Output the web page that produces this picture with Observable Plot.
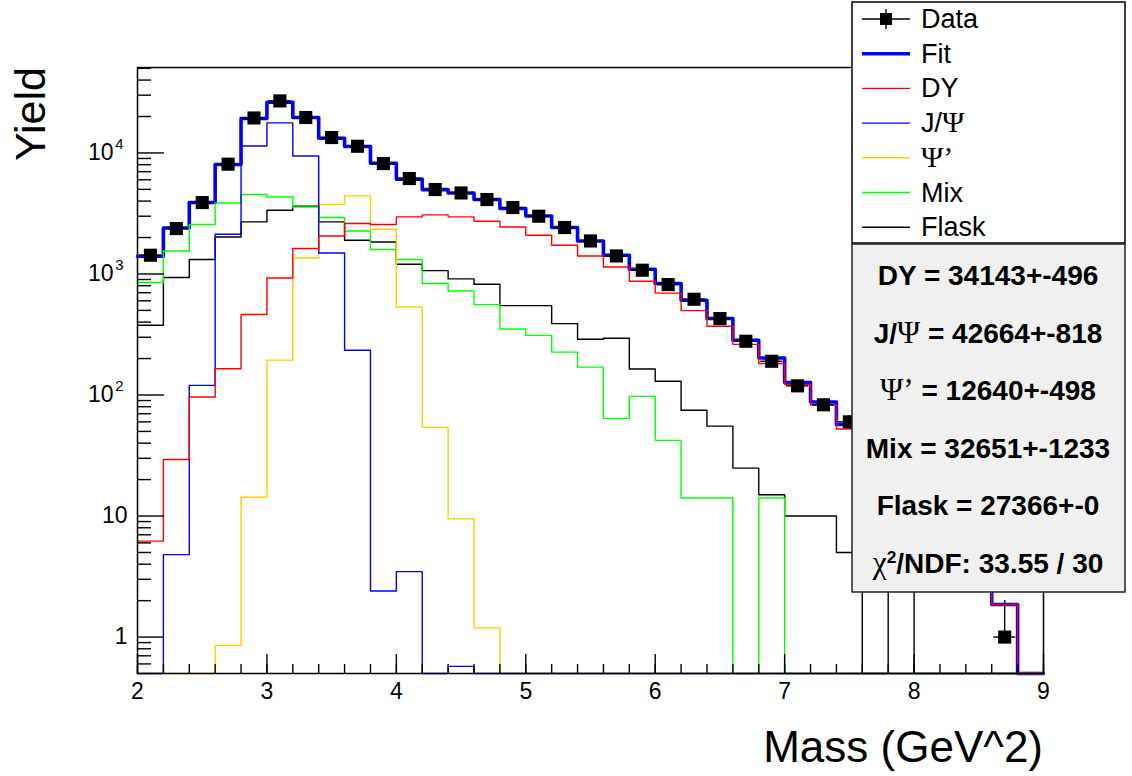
<!DOCTYPE html>
<html><head><meta charset="utf-8">
<script src="https://cdn.jsdelivr.net/npm/d3@7"></script>
<script src="https://cdn.jsdelivr.net/npm/@observablehq/plot@0.6"></script>
<style>
body{margin:0;background:#fff;}
#wrap{position:relative;width:1132px;height:776px;}
</style></head>
<body><div id="wrap"></div>
<script>
// ---- data ----
const binEdges = [2.0,2.2,2.4,2.6,2.8,3.0,3.2,3.4,3.6,3.8,4.0,4.2,4.4,4.6,4.8,5.0,5.2,5.4,5.6,5.8,6.0,6.2,6.4,6.6,6.8,7.0,7.2,7.4,7.6,7.8,8.0,8.2,8.4,8.6,8.8,9.0];
const dataYield = [1428,2373,3890,8070,19450,26900,19620,13400,11350,8170,6140,4980,4670,4120,3540,3000,2420,1874,1409,1074,817,618,428,278,190,119,83,60,38,25,17,9,5,1,0];
const fitYield  = [1400,2400,3890,8020,19240,26240,19620,13220,11300,8220,6070,4980,4670,4120,3470,3015,2420,1874,1428,1094,833,606,428,283,202,127,87.5,57,36,27,15,9,5,1.86,0];
const dyYield   = [6.2,29.3,96.3,165,462,927,1622,2060,2610,2560,2960,3075,2960,2728,2445,2088,1727,1409,1143,871,695,498,370,262,182,122,82.6,52.4,36,24,15,9,5,1.86,0];
const jpsiYield = [0,4.8,120,2130,11420,17700,9440,1492,234,2.4,3.47,0,0.573,0,0,0,0,0,0,0,0,0,0,0,0,0,0,0,0,0,0,0,0,0,0];
const psi2Yield = [0,0,0,0.853,14.3,194,1355,3745,4415,2340,533,54,9.5,1.19,0,0,0,0,0,0,0,0,0,0,0,0,0,0,0,0,0,0,0,0,0];
const mixYield  = [849,1549,2560,3862,4530,4326,3580,2925,2265,1592,1315,833,724,558,351,311,226,170,63.8,97.5,42.2,14.1,14.1,0,14.1,0,0,0,0,0,0,0,0,0,0];
const flaskYield= [377,934,1315,2023,2692,3360,3630,2692,1898,1838,1203,1065,910,822,548,548,389,289,294,164,130,74.8,55.3,24.9,15.0,10,10,5,0,3,0,0,0,0,0];

const xMajorTicks = [2,3,4,5,6,7,8,9];
const xMinorTicks = binEdges;
const yMajorTicks = [1,10,100,1000,10000];
const yTickBase = ["1","10","10","10","10"];
const yTickExp  = ["","","2","3","4"];
const yMinorTicks = [0.6,0.7,0.8,0.9,2,3,4,5,6,7,8,9,20,30,40,50,60,70,80,90,200,300,400,500,600,700,800,900,2000,3000,4000,5000,6000,7000,8000,9000,20000,30000,40000,50000];

const legendLabels = ["Data","Fit","DY","J/Ψ","Ψ’","Mix","Flask"];
const statLines = ["DY = 34143+-496","J/Ψ = 42664+-818","Ψ’ = 12640+-498","Mix = 32651+-1233","Flask = 27366+-0","χ2/NDF: 33.55 / 30"];

const yMin = 0.5, yMax = 50800;

// ---- build ----
const steps = vals => binEdges.map((x, i) => ({x, v: vals[Math.min(i, vals.length - 1)]}));
const centers = binEdges.slice(0, -1).map((e, i) => (e + binEdges[i + 1]) / 2);
const pts = dataYield.map((v, i) => ({x: centers[i], v})).filter(d => d.v > 0);
const yc = d => Math.max(d.v, yMin);

const series = [
  {vals: flaskYield, color: "#000000", w: 1.4},
  {vals: mixYield, color: "#00ff00", w: 1.4},
  {vals: psi2Yield, color: "#ffcc00", w: 1.4},
  {vals: jpsiYield, color: "#0000ff", w: 1.4},
];

const font = "'Liberation Sans', Arial, Helvetica, sans-serif";
const plot = Plot.plot({
  width: 1132, height: 776,
  marginLeft: 137, marginRight: 89, marginTop: 67, marginBottom: 103,
  x: {domain: [2, 9], axis: null},
  y: {type: "log", domain: [yMin, yMax], axis: null},
  style: {fontFamily: font, background: "white", color: "black"},
  marks: [
    Plot.line(steps(fitYield), {x: "x", y: yc, curve: "step-after", stroke: "#0000ff", strokeWidth: 3.6}),
    ...series.map(s => Plot.line(steps(s.vals), {x: "x", y: yc, curve: "step-after", stroke: s.color, strokeWidth: s.w})),
    Plot.line(steps(dyYield), {x: "x", y: yc, curve: "step-after", stroke: "#ff0000", strokeWidth: 1.4}),
    Plot.ruleY(pts, {y: "v", x1: d => d.x - 0.085, x2: d => d.x + 0.085, stroke: "black", strokeWidth: 1.4}),
    Plot.ruleX(pts, {x: "x", y1: d => Math.max(d.v - Math.sqrt(d.v), d.v * 0.999), y2: d => d.v + Math.sqrt(d.v), stroke: "black", strokeWidth: 1.4}),
    Plot.dot(pts, {x: "x", y: "v", symbol: "square", r: 7.4, fill: "black", stroke: "none"}),
    // ticks (inside frame)
    Plot.ruleX(xMinorTicks, {x: d => d, y1: yMin, y2: yMin, insetTop: -9, stroke: "black", strokeWidth: 1.4}),
    Plot.ruleX(xMajorTicks, {x: d => d, y1: yMin, y2: yMin, insetTop: -19, stroke: "black", strokeWidth: 1.4}),
    Plot.ruleY(yMinorTicks, {y: d => d, x1: 2, x2: 2, insetRight: -14, stroke: "black", strokeWidth: 1.4}),
    Plot.ruleY(yMajorTicks, {y: d => d, x1: 2, x2: 2, insetRight: -27, stroke: "black", strokeWidth: 1.4}),
    Plot.text(xMajorTicks, {x: d => d, y: yMin, text: d => String(d), dy: 18, fontSize: 23, lineAnchor: "middle"}),
    Plot.text(yMajorTicks, {filter: (d, i) => yTickExp[i] === "", x: 2, y: d => d, text: d => yTickBase[yMajorTicks.indexOf(d)], dx: -10, textAnchor: "end", fontSize: 23, lineAnchor: "middle"}),
    Plot.text(yMajorTicks, {filter: (d, i) => yTickExp[i] !== "", x: 2, y: d => d, text: d => yTickBase[yMajorTicks.indexOf(d)], dx: -24, textAnchor: "end", fontSize: 23, lineAnchor: "middle"}),
    Plot.text(yMajorTicks, {filter: (d, i) => yTickExp[i] !== "", x: 2, y: d => d, text: d => yTickExp[yMajorTicks.indexOf(d)], dx: -14, dy: -9, textAnchor: "end", fontSize: 15, lineAnchor: "middle"}),
    Plot.frame({stroke: "black", strokeWidth: 1.5})
  ]
});
document.getElementById("wrap").appendChild(plot);

// ---- titles, legend, stats ----
const svg = d3.select(plot);
svg.append("text").attr("x", 1043).attr("y", 762).attr("text-anchor", "end")
  .attr("font-family", font).attr("font-size", 44).attr("fill", "black").text("Mass (GeV^2)");
svg.append("text").attr("transform", "translate(45,67) rotate(-90)").attr("text-anchor", "end")
  .attr("font-family", font).attr("font-size", 43).attr("fill", "black").text("Yield");

const serif = "'Liberation Serif', 'DejaVu Serif', serif";
function richText(sel, str) {
  const parts = str.split(/(χ2|Ψ’|Ψ)/).filter(s => s !== "");
  for (const p of parts) {
    if (p === "χ2") {
      sel.append("tspan").attr("font-family", serif).attr("font-weight", "normal").attr("font-size", "1.12em").text("χ");
      sel.append("tspan").attr("font-size", "0.62em").attr("dy", "-0.55em").text("2");
      sel.append("tspan").attr("dy", "0.34em").text("/");
    } else if (p === "Ψ" || p === "Ψ’") {
      sel.append("tspan").attr("font-family", serif).attr("font-weight", "normal").attr("font-size", "1.12em").text(p);
    } else {
      sel.append("tspan").text(p.startsWith("/NDF") ? p.slice(1) : p);
    }
  }
}

const lg = svg.append("g");
lg.append("rect").attr("x", 852).attr("y", 2).attr("width", 273).attr("height", 241)
  .attr("fill", "white").attr("stroke", "black").attr("stroke-width", 1.5);
const legendStyles = [
  {color: "black", w: 1.4, marker: true},
  {color: "#0000ff", w: 3.6},
  {color: "#ff0000", w: 1.4},
  {color: "#0000ff", w: 1.4},
  {color: "#ffcc00", w: 1.4},
  {color: "#00ff00", w: 1.4},
  {color: "black", w: 1.4}
];
legendLabels.forEach((lab, i) => {
  const y = 19 + i * 34.7;
  const st = legendStyles[i];
  lg.append("line").attr("x1", 862).attr("x2", 910).attr("y1", y).attr("y2", y)
    .attr("stroke", st.color).attr("stroke-width", st.w);
  if (st.marker) {
    lg.append("line").attr("x1", 886).attr("x2", 886).attr("y1", y - 10).attr("y2", y + 10).attr("stroke", "black").attr("stroke-width", 1.4);
    lg.append("rect").attr("x", 880).attr("y", y - 6).attr("width", 12).attr("height", 12).attr("fill", "black");
  }
  const t = lg.append("text").attr("x", 921).attr("y", y + 9).attr("text-anchor", "start")
    .attr("font-family", font).attr("font-size", 27).attr("fill", "black");
  richText(t, lab);
});

const sg = svg.append("g");
sg.append("rect").attr("x", 852).attr("y", 244).attr("width", 273).attr("height", 348)
  .attr("fill", "#f0f0f0").attr("stroke", "#222").attr("stroke-width", 1.5);
statLines.forEach((s, i) => {
  const y = 275 + i * 57.6;
  const t = sg.append("text").attr("x", 988).attr("y", y + 10).attr("text-anchor", "middle")
    .attr("font-family", font).attr("font-weight", "bold").attr("font-size", 28).attr("fill", "black");
  richText(t, s);
});
</script>
</body></html>
